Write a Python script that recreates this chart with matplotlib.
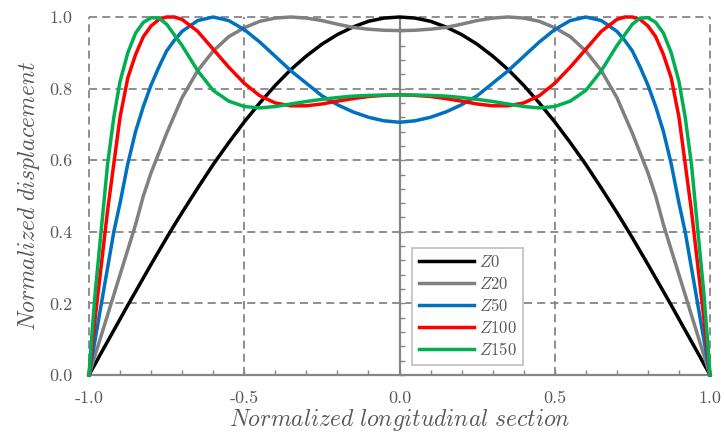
import matplotlib.pyplot as plt
from matplotlib.ticker import MultipleLocator

plt.rcParams['mathtext.fontset'] = 'cm'
plt.rcParams['font.family'] = ['cmr10', 'DejaVu Serif']
plt.rcParams['axes.unicode_minus'] = False
plt.rcParams['axes.formatter.use_mathtext'] = True

# normalized longitudinal position
x = [-1, -0.99, -0.98, -0.96, -0.94, -0.92, -0.9, -0.875, -0.85, -0.825, -0.8, -0.775, -0.75, -0.725, -0.7,
     -0.65, -0.6, -0.55, -0.5, -0.45, -0.4, -0.35, -0.3, -0.25, -0.2, -0.15, -0.1, -0.05, 0,
     0.05, 0.1, 0.15, 0.2, 0.25, 0.3, 0.35, 0.4, 0.45, 0.5, 0.55, 0.6, 0.65,
     0.7, 0.725, 0.75, 0.775, 0.8, 0.825, 0.85, 0.875, 0.9, 0.92, 0.94, 0.96, 0.98, 0.99, 1]

z0 = [0, 0.016, 0.031, 0.063, 0.094, 0.125, 0.156, 0.195, 0.233, 0.271, 0.309, 0.346, 0.383, 0.419, 0.454,
      0.522, 0.588, 0.649, 0.707, 0.760, 0.809, 0.853, 0.891, 0.924, 0.951, 0.972, 0.988, 0.997, 1.0,
      0.997, 0.988, 0.972, 0.951, 0.924, 0.891, 0.853, 0.809, 0.760, 0.707, 0.649, 0.588, 0.522,
      0.454, 0.419, 0.383, 0.346, 0.309, 0.271, 0.233, 0.195, 0.156, 0.125, 0.094, 0.063, 0.031, 0.016, 0]

z20 = [0, 0.028, 0.056, 0.112, 0.168, 0.224, 0.28, 0.35, 0.42, 0.50, 0.565, 0.62, 0.675, 0.725, 0.775,
       0.85, 0.905, 0.945, 0.97, 0.988, 0.997, 1.0, 0.997, 0.99, 0.98, 0.971, 0.966, 0.963, 0.962,
       0.963, 0.966, 0.971, 0.98, 0.99, 0.997, 1.0, 0.997, 0.988, 0.97, 0.945, 0.905, 0.85,
       0.775, 0.725, 0.675, 0.62, 0.565, 0.50, 0.42, 0.35, 0.28, 0.224, 0.168, 0.112, 0.056, 0.028, 0]

z50 = [0, 0.05, 0.10, 0.20, 0.30, 0.40, 0.48, 0.59, 0.68, 0.75, 0.81, 0.86, 0.905, 0.935, 0.96,
       0.99, 1.0, 0.99, 0.965, 0.93, 0.89, 0.85, 0.815, 0.78, 0.755, 0.735, 0.72, 0.71, 0.706,
       0.71, 0.72, 0.735, 0.755, 0.78, 0.815, 0.85, 0.89, 0.93, 0.965, 0.99, 1.0, 0.99,
       0.96, 0.935, 0.905, 0.86, 0.81, 0.75, 0.68, 0.59, 0.48, 0.40, 0.30, 0.20, 0.10, 0.05, 0]

z100 = [0, 0.08, 0.16, 0.31, 0.46, 0.59, 0.72, 0.83, 0.895, 0.945, 0.975, 0.993, 1.0, 1.0, 0.993,
        0.96, 0.91, 0.86, 0.815, 0.78, 0.76, 0.752, 0.752, 0.757, 0.765, 0.772, 0.778, 0.781, 0.783,
        0.781, 0.778, 0.772, 0.765, 0.757, 0.752, 0.752, 0.76, 0.78, 0.815, 0.86, 0.91, 0.96,
        0.993, 1.0, 1.0, 0.993, 0.975, 0.945, 0.895, 0.83, 0.72, 0.59, 0.46, 0.31, 0.16, 0.08, 0]

z150 = [0, 0.12, 0.23, 0.41, 0.59, 0.72, 0.82, 0.9, 0.955, 0.985, 0.998, 0.997, 0.98, 0.95, 0.92,
        0.85, 0.795, 0.765, 0.75, 0.746, 0.75, 0.757, 0.764, 0.77, 0.775, 0.779, 0.781, 0.782, 0.782,
        0.782, 0.781, 0.779, 0.775, 0.77, 0.764, 0.757, 0.75, 0.746, 0.75, 0.765, 0.795, 0.85,
        0.92, 0.95, 0.98, 0.997, 0.998, 0.985, 0.955, 0.9, 0.82, 0.72, 0.59, 0.41, 0.23, 0.12, 0]

series = [z0, z20, z50, z100, z150]
labels = [r'$\mathit{Z0}$', r'$\mathit{Z20}$', r'$\mathit{Z50}$', r'$\mathit{Z100}$', r'$\mathit{Z150}$']
colors = ['#000000', '#808080', '#0070C0', '#FF0000', '#00B050']

x_ticks = [-1.0, -0.5, 0.0, 0.5, 1.0]
x_tick_labels = ['-1.0', '-0.5', '0.0', '0.5', '1.0']
y_ticks = [0.0, 0.2, 0.4, 0.6, 0.8, 1.0]
y_tick_labels = ['0.0', '0.2', '0.4', '0.6', '0.8', '1.0']

axis_col = '#868686'
text_col = '#595959'

fig = plt.figure(figsize=(7.24, 4.36), dpi=100)
ax = fig.add_axes([0.1229, 0.1399, 0.8578, 0.8211])
ax.set_xlim(-1, 1)
ax.set_ylim(0, 1)

# dashed grid (including the outer frame)
grid_kw = dict(color=axis_col, lw=1.3, ls=(0, (4.5, 2.8)), clip_on=False, zorder=1)
for gx in [-1, -0.5, 0.5, 1]:
    ax.axvline(gx, **grid_kw)
for gy in y_ticks[1:]:
    ax.axhline(gy, **grid_kw)

# axes crossing at x=0, y=0
ax.spines['top'].set_visible(False)
ax.spines['right'].set_visible(False)
ax.spines['left'].set_position(('data', 0))
for s in ['left', 'bottom']:
    ax.spines[s].set_color(axis_col)
    ax.spines[s].set_linewidth(1.6)
    ax.spines[s].set_zorder(2)

ax.set_xticks(x_ticks, x_tick_labels)
ax.xaxis.set_minor_locator(MultipleLocator(0.1))
ax.tick_params(axis='x', which='both', direction='in', length=3.6, width=1, color=axis_col,
               labelsize=13, labelcolor=text_col, pad=11)
ax.yaxis.set_major_locator(MultipleLocator(0.2))
ax.yaxis.set_minor_locator(MultipleLocator(0.04))
ax.tick_params(axis='y', which='both', direction='in', length=3.6, width=1, color=axis_col,
               labelleft=False)

sec = ax.secondary_yaxis('left')
sec.spines['left'].set_visible(False)
sec.set_yticks(y_ticks, y_tick_labels)
sec.tick_params(length=0, pad=12, labelsize=13, labelcolor=text_col)

for ys, lab, c in zip(series, labels, colors):
    ax.plot(x, ys, color=c, lw=2.5, label=lab, clip_on=False, zorder=3)

leg = ax.legend(loc='lower left', bbox_to_anchor=(0.52, 0.028), fontsize=12, frameon=True,
                fancybox=False, edgecolor='#BFBFBF', framealpha=1, handlelength=3.3,
                handletextpad=0.3, labelspacing=0.33, borderpad=0.4, borderaxespad=0,
                labelcolor=text_col)
leg.get_frame().set_linewidth(1.2)
leg.set_zorder(5)

fig.text(0.552, 0.037, r'$\mathit{Normalized\ longitudinal\ section}$', ha='center', va='center',
         fontsize=17, color=text_col)
fig.text(0.040, 0.55, r'$\mathit{Normalized\ displacement}$', ha='center', va='center',
         rotation=90, fontsize=17, color=text_col)

fig.savefig('out.png', dpi=100)
